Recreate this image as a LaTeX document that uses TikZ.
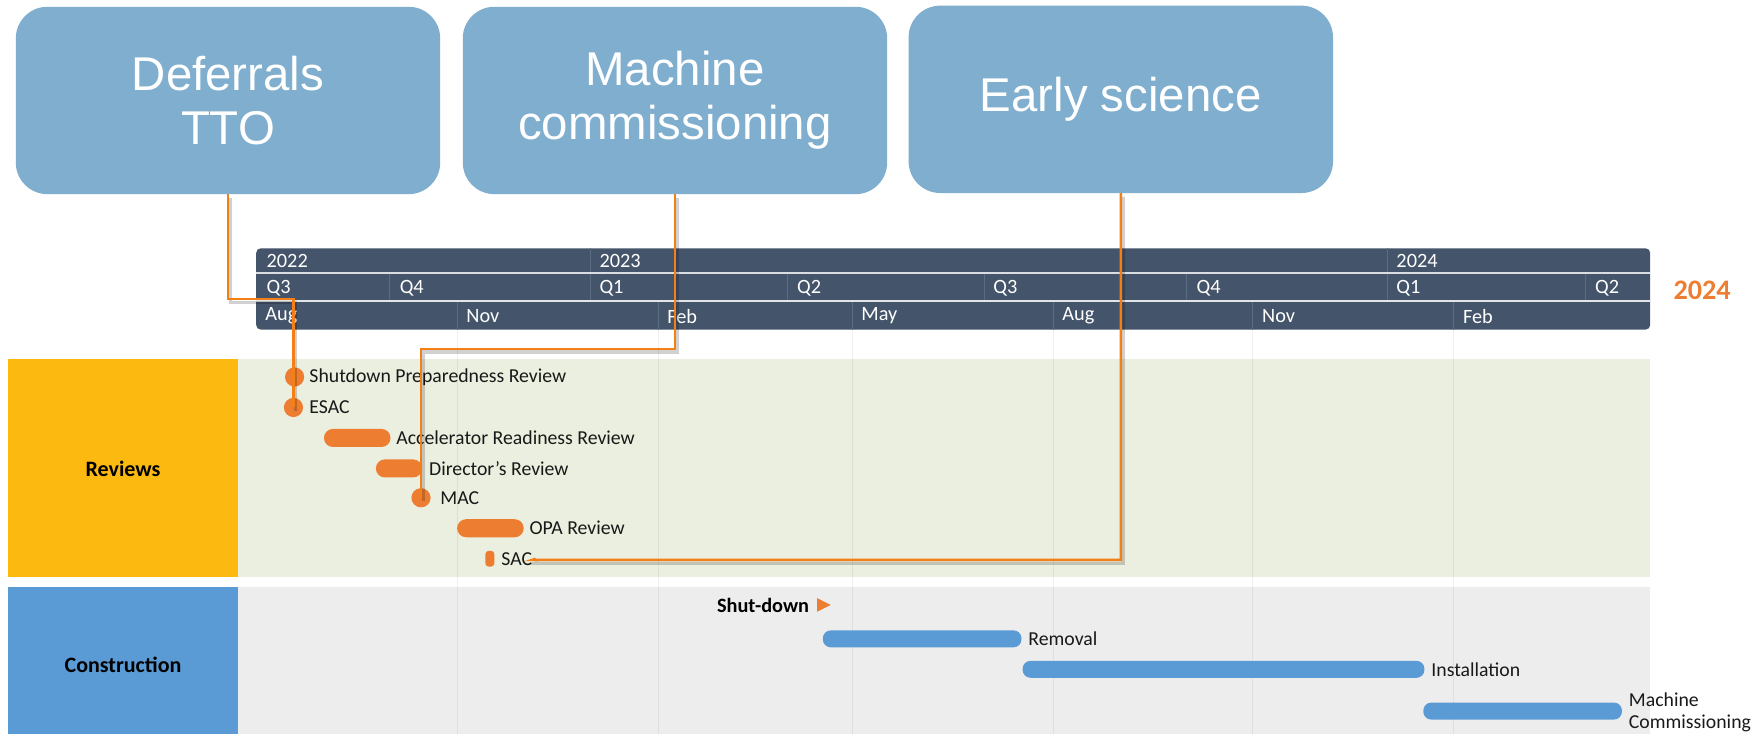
\documentclass[tikz,border=0pt]{standalone}
\usepackage{fontspec}
\setmainfont{Carlito}
\newfontfamily\arialf{Liberation Sans}
\usetikzlibrary{calc}
\definecolor{boxblue}{HTML}{7FAECE}
\definecolor{hdr}{HTML}{44546A}
\definecolor{hdrsep}{HTML}{5B6B80}
\definecolor{orng}{HTML}{ED7D31}
\definecolor{conn}{HTML}{F57F17}
\definecolor{revlab}{HTML}{FCB90F}
\definecolor{revbg}{HTML}{EBEFDF}
\definecolor{conlab}{HTML}{5B9BD5}
\definecolor{conbg}{HTML}{EDEDED}
\definecolor{barblue}{HTML}{5B9BD5}
\tikzset{
  topbox/.style={fill=boxblue, rounded corners=28pt, minimum width=376pt, minimum height=166pt,
    text=white, align=center, font=\arialf\fontsize{42}{48}\selectfont, inner sep=0pt},
  hdrtxt/.style={text=white, anchor=west, font=\fontsize{18}{20}\selectfont, inner sep=0pt},
  itemlab/.style={anchor=west, font=\fontsize{17.5}{20}\selectfont, inner sep=0pt, text=black!90},
  obar/.style={fill=orng, rounded corners=8pt, minimum height=16pt, inner sep=0pt},
  odot/.style={fill=orng, circle, minimum size=17pt, inner sep=0pt},
  bbar/.style={fill=barblue, rounded corners=7pt, minimum height=15pt, inner sep=0pt},
  connline/.style={draw=conn, line width=2.2pt,
    preaction={draw=black, opacity=0.18, line width=3pt, transform canvas={shift={(2,3)}}}},
  lanelab/.style={font=\bfseries\fontsize{19.5}{22}\selectfont, text=black},
}
\begin{document}
\begin{tikzpicture}[x=1pt,y=-1pt]
\useasboundingbox (0,0) rectangle (1554,650.3);
\fill[white] (0,0) rectangle (1554,650.3);

% top boxes
\node[topbox] (b1) at (202,89) {Deferrals\\TTO};
\node[topbox] (b2) at (598,89) {Machine\\commissioning};
\node[topbox] (b3) at (993,88) {Early science};

% lanes
\fill[revlab] (7,318) rectangle (211,511);
\fill[revbg] (211,318) rectangle (1462,511);
\fill[conlab] (7,520) rectangle (211,650.3);
\fill[conbg] (211,520) rectangle (1462,650.3);
\node[lanelab] (rev) at (109,415) {Reviews};
\node[lanelab] (con) at (109,589) {Construction};

% faint grid
\foreach \gx in {405,583,755,933,1110,1288}
  \draw[black, opacity=0.06, line width=0.8pt] (\gx,292) -- (\gx,650.3);

% header
\fill[hdr, rounded corners=4pt] (227,220) rectangle (1462,292);
\draw[white!80!hdr, line width=1.6pt] (227,242) -- (1462,242);
\draw[white!85!hdr, line width=1.6pt] (227,267) -- (1462,267);
\foreach \gx in {523,1229}
  \draw[hdrsep, line width=0.8pt] (\gx,220) -- (\gx,241);
\foreach \gx in {345,523,698,872,1051,1229,1405}
  \draw[hdrsep, line width=0.8pt] (\gx,243) -- (\gx,266);
\foreach \gx in {405,583,755,933,1110,1288}
  \draw[hdrsep, line width=0.8pt] (\gx,268) -- (\gx,292);
\node[hdrtxt] (y22) at (236,231) {2022};
\node[hdrtxt] (y23) at (531,231) {2023};
\node[hdrtxt] (y24) at (1237,231) {2024};
\node[hdrtxt] (q1) at (236,255) {Q3};
\node[hdrtxt] (q2) at (354,255) {Q4};
\node[hdrtxt] (q3) at (531,255) {Q1};
\node[hdrtxt] (q4) at (706,255) {Q2};
\node[hdrtxt] (q5) at (880,255) {Q3};
\node[hdrtxt] (q6) at (1060,255) {Q4};
\node[hdrtxt] (q7) at (1237,255) {Q1};
\node[hdrtxt] (q8) at (1413,255) {Q2};
\node[hdrtxt] (m1) at (235,280) {Aug};
\node[hdrtxt] (m2) at (413,280) {Nov};
\node[hdrtxt] (m3) at (591,280) {Feb};
\node[hdrtxt] (m4) at (763,280) {May};
\node[hdrtxt] (m5) at (941,280) {Aug};
\node[hdrtxt] (m6) at (1118,280) {Nov};
\node[hdrtxt] (m7) at (1296,280) {Feb};
\node[text=orng, font=\bfseries\fontsize{25}{27}\selectfont, inner sep=0pt] (yr) at (1508,257) {2024};

% review items
\node[odot] (spr) at (261,334) {};
\node[itemlab] (sprl) at (274,334) {Shutdown Preparedness Review};
\node[odot] (esac) at (260,361) {};
\node[itemlab] (esacl) at (274,361) {ESAC};
\node[obar, minimum width=59pt] (arr) at (316.5,388) {};
\node[itemlab] (arrl) at (351,388) {Accelerator Readiness Review};
\node[obar, minimum width=41pt] (dir) at (353.5,415) {};
\node[itemlab] (dirl) at (380,415) {Director's Review};
\node[odot] (mac) at (373,441) {};
\node[itemlab] (macl) at (390,441) {MAC};
\node[obar, minimum width=59pt] (opa) at (434.5,468) {};
\node[itemlab] (opal) at (469,468) {OPA Review};
\node[fill=orng, rounded corners=3pt, minimum width=8pt, minimum height=14pt, inner sep=0pt] (sac) at (434,495) {};
\node[itemlab] (sacl) at (444,495) {SAC};

% construction items
\node[anchor=east, font=\bfseries\fontsize{18}{20}\selectfont, inner sep=0pt] (shut) at (717,536) {Shut-down};
\fill[orng] (724,530) -- (736,536) -- (724,542) -- cycle;
\node[bbar, minimum width=176pt] (rem) at (817,566) {};
\node[itemlab] (reml) at (911,566) {Removal};
\node[bbar, minimum width=356pt] (ins) at (1084,593) {};
\node[itemlab] (insl) at (1268,593) {Installation};
\node[bbar, minimum width=176pt] (mc) at (1349,630) {};
\node[itemlab, align=left] (mcl) at (1443,631) {Machine\\Commissioning};

% connectors
\draw[connline] (b1.south) |- (esac |- 0,265) -- (esac.center);
\draw[connline] (b2.south) |- (mac |- 0,309) -- (mac.center);
\draw[connline] (b3.south) |- (sacl.east |- 0,496) -- ([xshift=3pt]sacl.east);
\end{tikzpicture}
\end{document}
